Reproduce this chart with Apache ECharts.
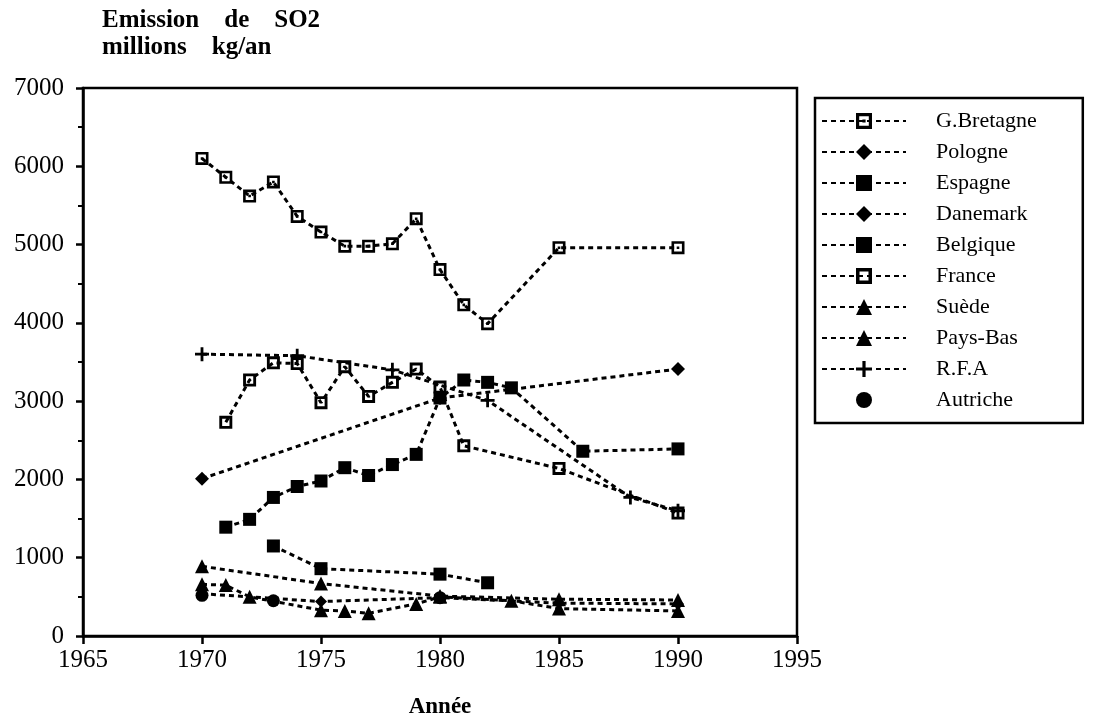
<!DOCTYPE html>
<html>
<head>
<meta charset="utf-8">
<script src="https://cdn.jsdelivr.net/npm/echarts@6/dist/echarts.min.js"></script>
<style>
  html, body { margin: 0; padding: 0; background: #fff; }
  #chart { width: 1096px; height: 724px; }
</style>
</head>
<body>
<div id="chart"></div>
<script>
// --- données (millions kg/an) ---
const gbYears = [1970, 1971, 1972, 1973, 1974, 1975, 1976, 1977, 1978, 1979, 1980, 1981, 1982, 1985, 1990];
const gbValues = [6100, 5860, 5620, 5800, 5360, 5160, 4980, 4980, 5010, 5330, 4680, 4230, 3990, 4960, 4960];

const poYears = [1970, 1980, 1990];
const poValues = [2010, 3040, 3410];

const esYears = [1971, 1972, 1973, 1974, 1975, 1976, 1977, 1978, 1979, 1980, 1981, 1982, 1983, 1986, 1990];
const esValues = [1390, 1490, 1770, 1910, 1980, 2150, 2050, 2190, 2320, 3040, 3270, 3240, 3170, 2360, 2390];

const daYears = [1970, 1975, 1980, 1985, 1990];
const daValues = [540, 440, 490, 420, 410];

const beYears = [1973, 1975, 1980, 1982];
const beValues = [1150, 860, 790, 680];

const frYears = [1971, 1972, 1973, 1974, 1975, 1976, 1977, 1978, 1979, 1980, 1981, 1985, 1990];
const frValues = [2730, 3270, 3490, 3480, 2980, 3440, 3060, 3240, 3410, 3180, 2430, 2140, 1570];

const suYears = [1970, 1975, 1980, 1985, 1990];
const suValues = [890, 670, 510, 470, 460];

const pbYears = [1970, 1971, 1972, 1975, 1976, 1977, 1979, 1980, 1983, 1985, 1990];
const pbValues = [660, 650, 500, 330, 320, 290, 410, 500, 450, 350, 320];

const rfaYears = [1970, 1974, 1978, 1982, 1988, 1990];
const rfaValues = [3600, 3580, 3400, 3010, 1770, 1600];

const auYears = [1970, 1973, 1980];
const auValues = [520, 450, 490];

// symboles
const dotSquare = 'path://M0,0H10V10H0Z M2,2V8H8V2Z M4,4H6V6H4Z';
const openSquare = 'path://M0,0H10V10H0Z M2.2,2.2V7.8H7.8V2.2Z';
const plus = 'path://M4,0H6V4H10V6H6V10H4V6H0V4H4Z';

const pairs = (xs, ys) => xs.map((x, i) => [x, ys[i]]);

const serif = '"Liberation Serif", "DejaVu Serif", serif';

const makeSeries = (name, xs, ys, symbol, size, noLine) => ({
  name,
  type: 'line',
  data: pairs(xs, ys),
  symbol,
  symbolSize: size,
  symbolKeepAspect: true,
  itemStyle: { color: '#000' },
  lineStyle: noLine
    ? { width: 0, opacity: 0 }
    : { color: '#000', width: 3, type: [5, 4] },
  emphasis: { disabled: true },
  animation: false,
  z: 3,
});

const series = [
  makeSeries('G.Bretagne', gbYears, gbValues, dotSquare, 13),
  makeSeries('Pologne', poYears, poValues, 'diamond', 14),
  makeSeries('Espagne', esYears, esValues, 'rect', 13),
  makeSeries('Danemark', daYears, daValues, 'diamond', 12),
  makeSeries('Belgique', beYears, beValues, 'rect', 13),
  makeSeries('France', frYears, frValues, openSquare, 13),
  makeSeries('Suède', suYears, suValues, 'triangle', 14),
  makeSeries('Pays-Bas', pbYears, pbValues, 'triangle', 14),
  makeSeries('R.F.A', rfaYears, rfaValues, plus, 14),
  makeSeries('Autriche', auYears, auValues, 'circle', 13, true),
];

const chart = echarts.init(document.getElementById('chart'));
chart.setOption({
  backgroundColor: '#fff',
  animation: false,
  title: {
    text: 'Emission    de    SO2\nmillions    kg/an',
    left: 97,
    top: 2,
    textStyle: {
      fontFamily: serif,
      fontWeight: 'bold',
      fontSize: 25,
      lineHeight: 27,
      color: '#000',
    },
  },
  grid: {
    left: 83,
    right: 299,
    top: 88,
    bottom: 87,
    show: true,
    borderColor: '#000',
    borderWidth: 2.5,
    containLabel: false,
  },
  legend: {
    orient: 'vertical',
    left: 815,
    top: 98,
    padding: [12, 46, 12, 6],
    borderColor: '#000',
    borderWidth: 2.5,
    itemGap: 9,
    itemWidth: 84,
    itemHeight: 20,
    selectedMode: false,
    textStyle: {
      fontFamily: serif,
      fontSize: 22,
      color: '#000',
      padding: [0, 0, 0, 25],
    },
    data: series.map((s) => s.name),
  },
  xAxis: {
    type: 'value',
    min: 1965,
    max: 1995,
    interval: 5,
    name: 'Année',
    nameLocation: 'middle',
    nameGap: 60,
    nameTextStyle: {
      fontFamily: serif,
      fontWeight: 'bold',
      fontSize: 23,
      color: '#000',
    },
    axisLine: { lineStyle: { color: '#000', width: 2.5 } },
    axisTick: { inside: false, length: 8, lineStyle: { color: '#000', width: 2.5 } },
    axisLabel: {
      fontFamily: serif,
      fontSize: 25,
      color: '#000',
      margin: 12,
      formatter: (v) => String(v),
    },
    splitLine: { show: false },
  },
  yAxis: {
    type: 'value',
    min: 0,
    max: 7000,
    interval: 1000,
    axisLine: { show: true, lineStyle: { color: '#000', width: 2.5 } },
    axisTick: { show: true, inside: false, length: 7, lineStyle: { color: '#000', width: 2.5 } },
    minorTick: { show: true, splitNumber: 2, length: 5, lineStyle: { color: '#000', width: 2 } },
    axisLabel: {
      fontFamily: serif,
      fontSize: 25,
      color: '#000',
      margin: 19,
      formatter: (v) => String(v),
    },
    splitLine: { show: false },
  },
  series,
});
</script>
</body>
</html>
